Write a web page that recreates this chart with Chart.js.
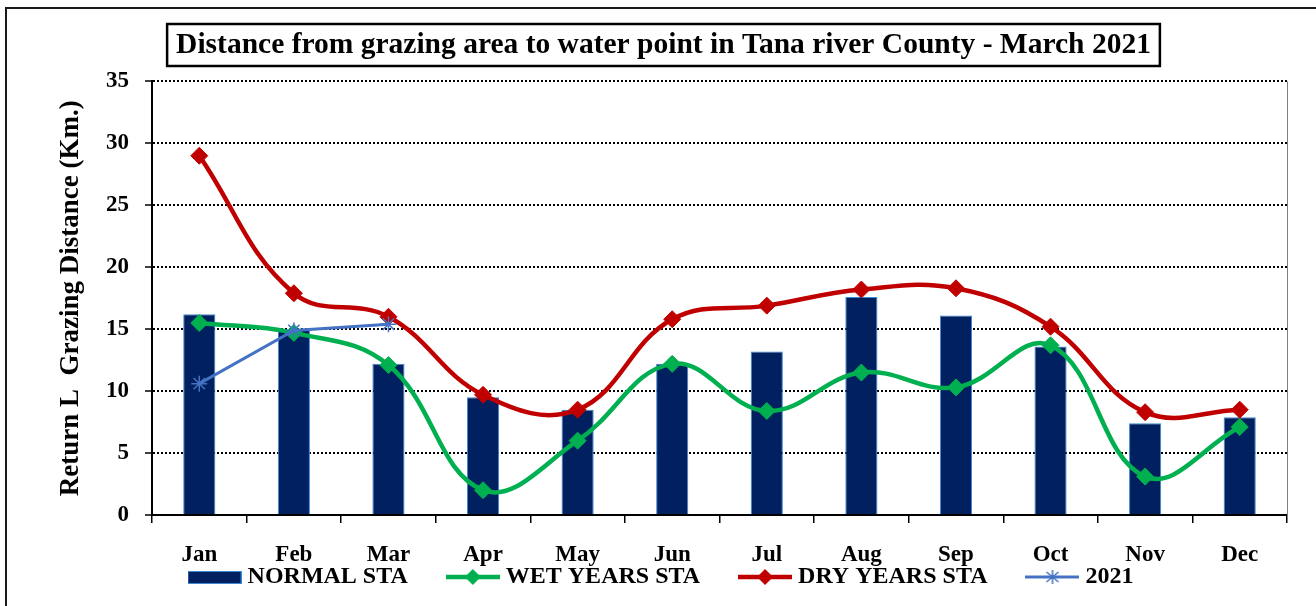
<!DOCTYPE html>
<html>
<head>
<meta charset="utf-8">
<script src="https://cdn.jsdelivr.net/npm/chart.js@4/dist/chart.umd.min.js"></script>
<style>
  html, body { margin: 0; padding: 0; background: #fff; overflow: hidden; }
  .frame { position: absolute; left: 5px; top: 7px; width: 1400px; height: 700px; border: 2px solid #1a1a1a; }
  .wrap { position: absolute; left: 0; top: 0; width: 1316px; height: 606px; }
</style>
</head>
<body>
<div class="frame"></div>
<div class="wrap"><canvas id="grazingChart" width="1316" height="606"></canvas></div>
<script>
// chart data
const months = ['Jan', 'Feb', 'Mar', 'Apr', 'May', 'Jun', 'Jul', 'Aug', 'Sep', 'Oct', 'Nov', 'Dec'];
const normalSta = [16.2, 15.0, 12.2, 9.5, 8.5, 12.2, 13.2, 17.6, 16.1, 13.6, 7.4, 7.9];
const wetYearsSta = [15.5, 14.7, 12.1, 2.0, 6.0, 12.2, 8.4, 11.5, 10.3, 13.7, 3.1, 7.1];
const dryYearsSta = [29.0, 17.9, 16.0, 9.7, 8.5, 15.8, 16.9, 18.2, 18.3, 15.2, 8.3, 8.5];
const year2021 = [10.6, 14.9, 15.4, null, null, null, null, null, null, null, null, null];
const seriesNames = ['NORMAL STA', 'WET YEARS STA', 'DRY YEARS STA', '2021'];
const yTicks = [0, 5, 10, 15, 20, 25, 30, 35];

const chartTitle = 'Distance from grazing area to water point in Tana river County - March 2021';
const yTitle = 'Return L  Grazing Distance (Km.)';

const serif = "'Liberation Serif', 'Times New Roman', serif";

// small canvases used as legend swatches
function lineSwatch(color, width, marker) {
  const c = document.createElement('canvas');
  c.width = 54; c.height = 20;
  const ctx = c.getContext('2d');
  ctx.strokeStyle = color;
  ctx.lineWidth = width;
  ctx.beginPath();
  ctx.moveTo(0, 10); ctx.lineTo(54, 10);
  ctx.stroke();
  ctx.fillStyle = color;
  if (marker === 'diamond') {
    ctx.beginPath();
    ctx.moveTo(27, 2); ctx.lineTo(35, 10); ctx.lineTo(27, 18); ctx.lineTo(19, 10);
    ctx.closePath();
    ctx.fill();
  } else if (marker === 'star') {
    ctx.lineWidth = 1.5;
    ctx.beginPath();
    ctx.moveTo(27, 3); ctx.lineTo(27, 17);
    ctx.moveTo(21, 5); ctx.lineTo(33, 15);
    ctx.moveTo(33, 5); ctx.lineTo(21, 15);
    ctx.stroke();
  }
  return c;
}

function barSwatch() {
  const c = document.createElement('canvas');
  c.width = 54; c.height = 20;
  const ctx = c.getContext('2d');
  ctx.fillStyle = '#002060';
  ctx.fillRect(0.5, 4.5, 53, 12);
  ctx.strokeStyle = '#3a8ad6';
  ctx.lineWidth = 1;
  ctx.strokeRect(0.5, 4.5, 53, 12);
  return c;
}

const swatches = [
  barSwatch(),
  lineSwatch('#00b050', 4.5, 'diamond'),
  lineSwatch('#c00000', 4.5, 'diamond'),
  lineSwatch('#4472c4', 3, 'star')
];

// box round the title, right edge of the plot
const framePlugin = {
  id: 'framePlugin',
  afterDraw(chart) {
    const ctx = chart.ctx;
    const area = chart.chartArea;
    ctx.save();
    ctx.strokeStyle = '#808080';
    ctx.lineWidth = 1;
    ctx.beginPath();
    ctx.moveTo(area.right + 0.5, area.top);
    ctx.lineTo(area.right + 0.5, area.bottom + 7);
    ctx.stroke();

    const tb = chart.titleBlock;
    ctx.font = 'bold 29.5px ' + serif;
    const w = ctx.measureText(chartTitle).width;
    const cx = (tb.left + tb.right) / 2;
    ctx.strokeStyle = '#000';
    ctx.lineWidth = 2.5;
    ctx.strokeRect(cx - w / 2 - 9, 24, w + 18, 42);
    ctx.restore();
  }
};

const chart = new Chart(document.getElementById('grazingChart'), {
  type: 'bar',
  data: {
    labels: months,
    datasets: [
      {
        type: 'bar',
        label: seriesNames[0],
        data: normalSta,
        backgroundColor: '#002060',
        borderColor: '#3a8ad6',
        borderWidth: 1,
        barPercentage: 0.34,
        categoryPercentage: 1,
        order: 4
      },
      {
        type: 'line',
        label: seriesNames[1],
        data: wetYearsSta,
        borderColor: '#00b050',
        backgroundColor: '#00b050',
        borderWidth: 4.5,
        tension: 0.4,
        pointStyle: 'rectRot',
        pointRadius: 8.5,
        pointBorderWidth: 1,
        order: 3
      },
      {
        type: 'line',
        label: seriesNames[2],
        data: dryYearsSta,
        borderColor: '#c00000',
        backgroundColor: '#c00000',
        borderWidth: 4.5,
        tension: 0.4,
        pointStyle: 'rectRot',
        pointRadius: 8.5,
        pointBorderWidth: 1,
        order: 2
      },
      {
        type: 'line',
        label: seriesNames[3],
        data: year2021,
        borderColor: '#4472c4',
        backgroundColor: '#4472c4',
        borderWidth: 3,
        tension: 0,
        pointStyle: 'star',
        pointRadius: 8,
        pointBorderWidth: 1.5,
        order: 1
      }
    ]
  },
  options: {
    responsive: false,
    animation: false,
    layout: { padding: { left: 40, right: 29, top: 10, bottom: 7 } },
    plugins: {
      title: {
        display: true,
        text: chartTitle,
        color: '#000',
        font: { family: serif, size: 29.5, weight: 'bold' },
        padding: { top: 18, bottom: 18 }
      },
      legend: {
        position: 'bottom',
        labels: {
          usePointStyle: true,
          pointStyleWidth: 42,
          padding: 44,
          color: '#000',
          font: { family: serif, size: 24, weight: 'bold' },
          sort: (a, b) => a.datasetIndex - b.datasetIndex,
          generateLabels(chart) {
            const items = Chart.defaults.plugins.legend.labels.generateLabels(chart);
            items.forEach(item => { item.pointStyle = swatches[item.datasetIndex]; });
            return items;
          }
        }
      },
      tooltip: { enabled: false }
    },
    scales: {
      x: {
        offset: true,
        grid: {
          offset: true,
          drawOnChartArea: false,
          color: '#000',
          lineWidth: 1.5,
          tickLength: 8
        },
        border: { color: '#000', width: 2 },
        ticks: {
          color: '#000',
          padding: 18,
          maxRotation: 0,
          autoSkip: false,
          font: { family: serif, size: 23, weight: 'bold' }
        },
        afterFit(scale) {
          // short box so the legend sits close; labels are allowed to spill below it
          scale.height = 6;
          scale._computeLabelArea = () => undefined;
        }
      },
      y: {
        min: 0,
        max: 35,
        afterBuildTicks(scale) { scale.ticks = yTicks.map(v => ({ value: v })); },
        grid: {
          color: '#000',
          lineWidth: 2,
          tickLength: 7,
          tickWidth: 1.5,
          tickBorderDash: []
        },
        border: { color: '#000', width: 2, dash: [2, 2] },
        ticks: {
          color: '#000',
          padding: 16,
          font: { family: serif, size: 23, weight: 'bold' }
        },
        title: {
          display: true,
          text: yTitle,
          color: '#000',
          padding: { top: 15, bottom: 0 },
          font: { family: serif, size: 27, weight: 'bold' }
        },
        afterFit(scale) { scale.width = 112; }
      }
    }
  },
  plugins: [framePlugin]
});
</script>
</body>
</html>
